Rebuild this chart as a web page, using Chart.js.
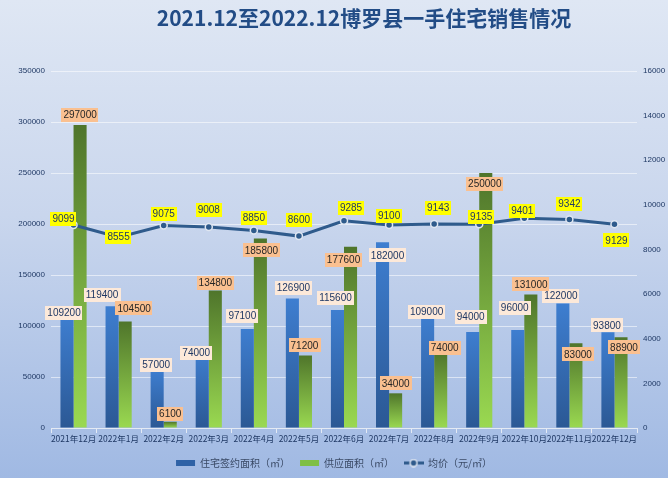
<!DOCTYPE html>
<html>
<head>
<meta charset="utf-8">
<script src="https://cdn.jsdelivr.net/npm/chart.js@4.4.1/dist/chart.umd.min.js"></script>
<style>
  html, body { margin: 0; padding: 0; }
  #wrap {
    width: 668px; height: 478px; position: relative;
    background: linear-gradient(to bottom, #dfe7f4 0%, #c9d6ed 45%, #a0b9e3 100%);
  }
</style>
</head>
<body>
<div id="wrap"><canvas id="chart" width="668" height="478"></canvas></div>
<script>
// chart data
const months = ['2021年12月', '2022年1月', '2022年2月', '2022年3月', '2022年4月', '2022年5月', '2022年6月',
  '2022年7月', '2022年8月', '2022年9月', '2022年10月', '2022年11月', '2022年12月'];
const signedArea = [109200, 119400, 57000, 74000, 97100, 126900, 115600, 182000, 109000, 94000, 96000, 122000, 93800];
const supplyArea = [297000, 104500, 6100, 134800, 185800, 71200, 177600, 34000, 74000, 250000, 131000, 83000, 88900];
const avgPrice = [9099, 8555, 9075, 9008, 8850, 8600, 9285, 9100, 9143, 9135, 9401, 9342, 9129];

const seriesNames = ['住宅签约面积（㎡）', '供应面积（㎡）', '均价（元/㎡）'];
const chartTitle = '2021.12至2022.12博罗县一手住宅销售情况';

// label nudges (box centre relative to bar top / point), like the hand-placed labels in the original
const signedLabelShift = [[-3,-4],[-10,-11],[-1,-5],[-6,0],[-5,-13],[1,-11],[-2,-12],[5,13],[-1,-5],[-2,-15],[-3,-22],[-2,-8],[-1,-7]];
const supplyLabelShift = [[0,-10],[9,-13],[0,-8],[0,-8],[1,12],[-1,-10],[-7,13],[0,-10],[4,-5],[-1,11],[0,-10],[2,11],[3,10]];
const priceLabelShift = [[-10,-6],[0,0],[0,-12],[0,-17],[0,-13],[0,-16],[7,-13],[0,-9],[4,-16],[2,-7],[-2,-7],[0,-16],[2,16]];

const tickColor = '#1f3864';

function barGradient(top, bottom) {
  return (ctx) => {
    const chart = ctx.chart;
    if (!chart.chartArea || ctx.type !== 'data') return bottom;
    const y = chart.scales.y;
    const yTop = y.getPixelForValue(ctx.raw);
    const yBase = y.getPixelForValue(0);
    const g = chart.ctx.createLinearGradient(0, yTop, 0, Math.max(yBase, yTop + 1));
    g.addColorStop(0, top);
    g.addColorStop(1, bottom);
    return g;
  };
}

// small "line with marker" swatch for the price legend entry
function lineSwatch() {
  const cv = document.createElement('canvas');
  cv.width = 20; cv.height = 9;
  const c = cv.getContext('2d');
  c.strokeStyle = '#2f5b8c';
  c.lineWidth = 3;
  c.beginPath(); c.moveTo(0, 4.5); c.lineTo(20, 4.5); c.stroke();
  c.beginPath(); c.arc(10, 4.5, 3.5, 0, Math.PI * 2);
  c.fillStyle = '#2f5b8c'; c.fill();
  c.lineWidth = 1.5; c.strokeStyle = '#dfe6f1'; c.stroke();
  return cv;
}
const priceSwatch = lineSwatch();

const titlePlugin = {
  id: 'fixedTitle',
  afterDraw(chart) {
    const c = chart.ctx;
    c.save();
    c.font = "bold 21px 'Noto Sans CJK SC', sans-serif";
    c.fillStyle = '#224c86';
    c.textAlign = 'center';
    c.textBaseline = 'middle';
    c.fillText(chartTitle, 364, 18);
    c.restore();
  }
};

const labelPlugin = {
  id: 'boxLabels',
  afterDatasetsDraw(chart) {
    const c = chart.ctx;
    const styles = [
      { bg: '#fde9d9', fg: '#1f3864', shift: signedLabelShift },
      { bg: '#fac090', fg: '#262626', shift: supplyLabelShift },
      { bg: '#ffff00', fg: '#1f3864', shift: priceLabelShift }
    ];
    c.save();
    c.font = "10px 'Liberation Sans', Arial, sans-serif";
    c.textAlign = 'center';
    c.textBaseline = 'middle';
    chart.data.datasets.forEach((ds, di) => {
      const meta = chart.getDatasetMeta(di);
      const st = styles[di];
      meta.data.forEach((el, i) => {
        const txt = String(ds.data[i]);
        const w = c.measureText(txt).width + 4;
        const h = 14;
        const cx = el.x + st.shift[i][0];
        const cy = el.y + st.shift[i][1];
        c.fillStyle = st.bg;
        c.fillRect(Math.round(cx - w / 2), Math.round(cy - h / 2), Math.round(w), h);
        c.fillStyle = st.fg;
        c.fillText(txt, cx, cy + 0.5);
      });
    });
    c.restore();
  }
};

new Chart(document.getElementById('chart'), {
  type: 'bar',
  data: {
    labels: months,
    datasets: [
      {
        label: seriesNames[0],
        data: signedArea,
        backgroundColor: barGradient('#3e7ed0', '#2b5894'),
        categoryPercentage: 0.58,
        barPercentage: 1.0,
        yAxisID: 'y',
        order: 1
      },
      {
        label: seriesNames[1],
        data: supplyArea,
        backgroundColor: barGradient('#4f752b', '#9ad951'),
        categoryPercentage: 0.58,
        barPercentage: 1.0,
        yAxisID: 'y',
        order: 1
      },
      {
        type: 'line',
        label: seriesNames[2],
        data: avgPrice,
        yAxisID: 'y1',
        borderColor: '#2f5b8c',
        backgroundColor: '#2f5b8c',
        borderWidth: 3,
        pointRadius: 3.5,
        pointBackgroundColor: '#2f5b8c',
        pointBorderColor: '#dfe6f1',
        pointBorderWidth: 1.5,
        tension: 0,
        order: -1
      }
    ]
  },
  options: {
    responsive: false,
    animation: false,
    layout: { padding: { top: 71, left: 0, right: 0, bottom: 0 } },
    plugins: {
      title: { display: false },
      tooltip: { enabled: false },
      legend: {
        position: 'bottom',
        labels: {
          color: '#3a4a66',
          font: { size: 10, family: "'Noto Sans CJK SC', sans-serif" },
          boxWidth: 19,
          boxHeight: 6,
          padding: 10,
          usePointStyle: true,
          pointStyleWidth: 19,
          sort: (a, b) => a.datasetIndex - b.datasetIndex,
          generateLabels(chart) {
            const items = Chart.defaults.plugins.legend.labels.generateLabels(chart);
            items.forEach((it) => {
              it.lineWidth = 0;
              if (it.datasetIndex === 0) { it.fillStyle = '#2f62a6'; it.strokeStyle = '#2f62a6'; it.pointStyle = 'rect'; }
              if (it.datasetIndex === 1) { it.fillStyle = '#7fbf44'; it.strokeStyle = '#7fbf44'; it.pointStyle = 'rect'; }
              if (it.datasetIndex === 2) { it.pointStyle = priceSwatch; }
            });
            return items;
          }
        }
      }
    },
    scales: {
      x: {
        offset: true,
        grid: { display: true, drawOnChartArea: false, drawTicks: true, tickLength: 5, color: '#e4eaf4', offset: true },
        border: { display: true, color: '#e4eaf4' },
        ticks: { color: tickColor, font: { size: 8.5, family: "'Noto Sans CJK SC', sans-serif" }, maxRotation: 0, autoSkip: false, padding: 1 },
        afterFit(s) { s.height = 20; }
      },
      y: {
        position: 'left',
        min: 0, max: 350000,
        ticks: { stepSize: 50000, color: tickColor, font: { size: 8, family: "'Liberation Sans', Arial, sans-serif" }, padding: 6, callback: (v) => String(v) },
        grid: { color: 'rgba(255,255,255,0.55)', drawTicks: false },
        border: { display: false },
        afterFit(s) { s.width = 51; }
      },
      y1: {
        position: 'right',
        min: 0, max: 16000,
        ticks: { stepSize: 2000, color: tickColor, font: { size: 8, family: "'Liberation Sans', Arial, sans-serif" }, padding: 6, callback: (v) => String(v) },
        grid: { display: false, drawTicks: false },
        border: { display: false },
        afterFit(s) { s.width = 31; }
      }
    }
  },
  plugins: [titlePlugin, labelPlugin]
});
</script>
</body>
</html>
